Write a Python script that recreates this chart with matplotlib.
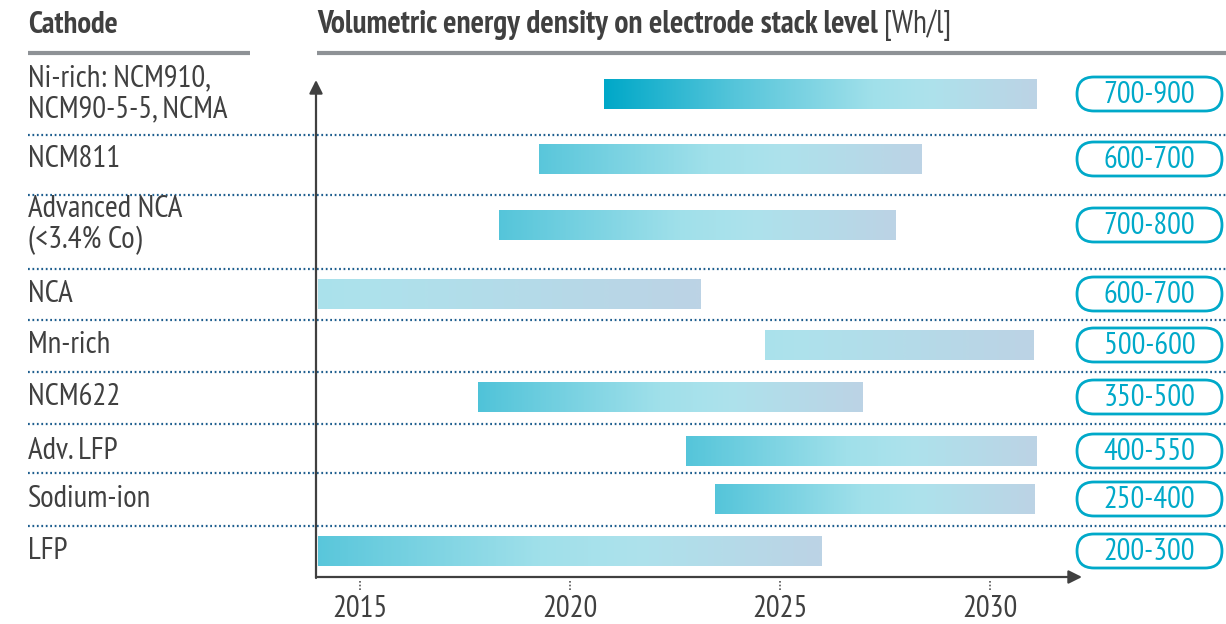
import numpy as np
import matplotlib
matplotlib.use('Agg')
import matplotlib.pyplot as plt
from matplotlib import font_manager
from matplotlib.colors import LinearSegmentedColormap
from matplotlib.patches import FancyBboxPatch


def weight_num(w):
    if isinstance(w, (int, float)):
        return w
    return font_manager.weight_dict.get(w, 400)


# pick a narrow sans that also has a bold face
fonts = font_manager.fontManager.ttflist
family = 'DejaVu Sans'
for cand in ['Liberation Sans Narrow', 'Arial Narrow', 'Archivo Narrow', 'PT Sans Narrow',
             'Roboto Condensed', 'Open Sans Condensed', 'IBM Plex Sans Condensed',
             'Fira Sans Condensed', 'Barlow Semi Condensed', 'Asap Condensed',
             'Encode Sans Condensed', 'Pathway Gothic One', 'DejaVu Sans Condensed']:
    faces = [f for f in fonts if f.name == cand]
    if any(weight_num(f.weight) >= 600 for f in faces) and any(weight_num(f.weight) <= 450 for f in faces):
        family = cand
        break
plt.rcParams['font.family'] = [family, 'DejaVu Sans']

# data
cathodes = ['Ni-rich: NCM910,\nNCM90-5-5, NCMA', 'NCM811', 'Advanced NCA\n(<3.4% Co)', 'NCA',
            'Mn-rich', 'NCM622', 'Adv. LFP', 'Sodium-ion', 'LFP']
start_year = [2020.8, 2019.25, 2018.3, 2014.0, 2024.65, 2017.8, 2022.75, 2023.45, 2014.0]
end_year = [2031.1, 2028.35, 2027.75, 2023.1, 2031.05, 2026.95, 2031.1, 2031.05, 2026.0]
density = ['700-900', '600-700', '700-800', '600-700', '500-600', '350-500', '400-550', '250-400', '200-300']
years = [2015, 2020, 2025, 2030]
title = 'Volumetric energy density on electrode stack level'
unit = '[Wh/l]'

# layout, pixels from top of the figure
row_y = [94, 159, 225, 294, 345, 397, 451, 499, 551]
sep_y = [135, 195, 269, 320, 372, 424, 473, 526]
grad_start = [0.0, 0.32, 0.3, 0.72, 0.72, 0.28, 0.3, 0.3, 0.32]

W, H = 1226, 624
dark = '#404040'
teal = '#00A9C9'
cmap = LinearSegmentedColormap.from_list('cath', [(0, '#00A8C8'), (0.3, '#55C5DA'),
                                                   (0.62, '#A0E0EA'), (0.75, '#ADE2EC'),
                                                   (1, '#BCD3E5')])

fig = plt.figure(figsize=(W / 100, H / 100), dpi=100)
renderer = fig.canvas.get_renderer()


def fit_size(s, target, weight='normal'):
    # font size that makes s about target pixels wide
    t = fig.text(0, 0, s, fontsize=20, fontweight=weight)
    w = t.get_window_extent(renderer).width
    t.remove()
    return 20 * target / w


fs_label = fit_size('NCM811', 92)
fs_head = fit_size('Cathode', 90, 'bold')
fs_title = fit_size(title, 563, 'bold')
fs_year = fit_size('2015', 55)
fs_pill = fit_size('700-900', 91)

# overlay in pixel coords for labels, rules and pills
lay = fig.add_axes([0, 0, 1, 1])
lay.set_xlim(0, W)
lay.set_ylim(H, 0)
lay.axis('off')

# chart axes: x in years, y in pixels
x0, x1 = 316, 1082
ax = fig.add_axes([x0 / W, 0, (x1 - x0) / W, 1])
ax.patch.set_alpha(0)
ppy = (990 - 360) / 15.0
xmin = 2015 - (360 - x0) / ppy
xmax = xmin + (x1 - x0) / ppy

for i in range(len(cathodes)):
    g = np.linspace(grad_start[i], 1, 256).reshape(1, -1)
    ax.imshow(g, cmap=cmap, vmin=0, vmax=1, aspect='auto',
              extent=[max(start_year[i], xmin), end_year[i], row_y[i] + 15, row_y[i] - 15],
              interpolation='bilinear')

ax.set_xlim(xmin, xmax)
ax.set_ylim(H, 0)
ax.axis('off')

# axes arrows
ax.annotate('', xy=(xmax, 577), xytext=(xmin, 577),
            arrowprops=dict(arrowstyle='-|>', color=dark, lw=1.6, mutation_scale=20, shrinkA=0, shrinkB=0),
            annotation_clip=False)
ax.annotate('', xy=(xmin, 80), xytext=(xmin, 578),
            arrowprops=dict(arrowstyle='-|>', color=dark, lw=1.6, mutation_scale=20, shrinkA=0, shrinkB=0),
            annotation_clip=False)

# year ticks
ax.vlines(years, 581, 591, colors='#555555', linestyles=(0, (1, 1.2)), lw=1.2, clip_on=False)
for yr in years:
    ax.text(yr, 609, str(yr), ha='center', va='center', fontsize=fs_year, color=dark, clip_on=False)

# headers
lay.text(28, 25, 'Cathode', fontsize=fs_head, fontweight='bold', color=dark, va='center', ha='left')
t = lay.text(317, 25, title, fontsize=fs_title, fontweight='bold', color=dark, va='center', ha='left')
bb = t.get_window_extent(renderer)
lay.text(bb.x1 + 6, 25, unit, fontsize=fs_title, color=dark, va='center', ha='left')
lay.plot([28, 250], [53, 53], color='#8E9296', lw=3, solid_capstyle='butt')
lay.plot([317, W], [53, 53], color='#8E9296', lw=3, solid_capstyle='butt')

# separators
for y in sep_y:
    lay.plot([28, W], [y, y], color='#1F5F8F', lw=1.6, ls=(0, (0.8, 1.2)))

# row labels and pills
for i, name in enumerate(cathodes):
    lay.text(28, row_y[i], name, fontsize=fs_label, color=dark, va='center', ha='left', linespacing=1.15)
    lay.add_patch(FancyBboxPatch((1077, row_y[i] - 17), 145, 34,
                                 boxstyle='round,pad=0,rounding_size=17',
                                 fc='white', ec=teal, lw=2))
    lay.text(1149.5, row_y[i] + 1, density[i], fontsize=fs_pill, color=teal, va='center', ha='center')

fig.savefig('out.png', dpi=100)
